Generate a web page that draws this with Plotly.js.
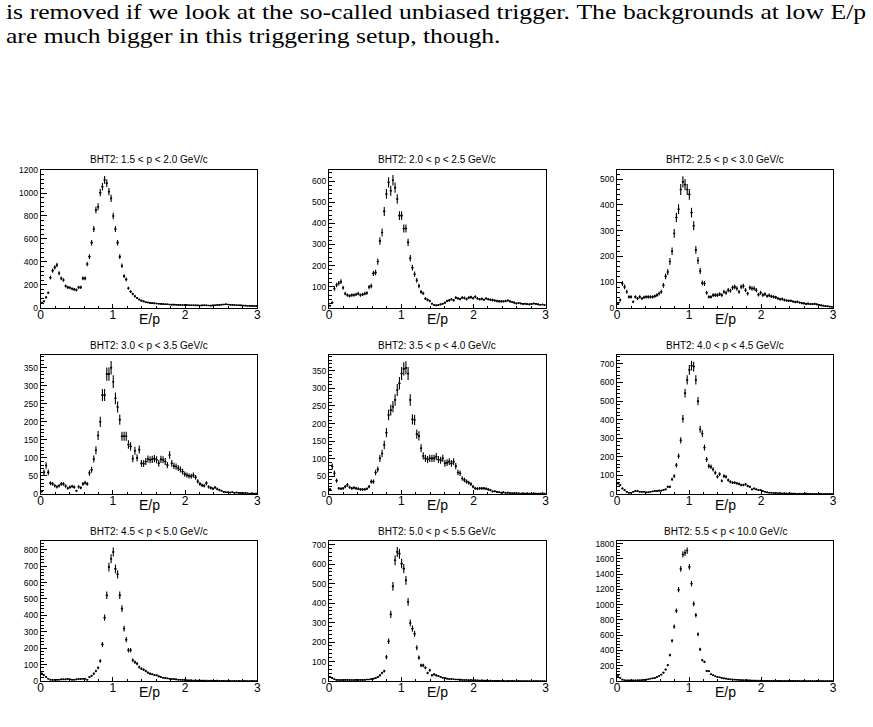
<!DOCTYPE html>
<html>
<head>
<meta charset="utf-8">
<script src="https://cdn.plot.ly/plotly-3.0.1.min.js"></script>
<style>
  html, body { margin: 0; padding: 0; background: #fff; }
  #page { position: relative; width: 873px; height: 727px; overflow: hidden; background: #fff; }
  #chart { position: absolute; left: 0; top: 0; width: 873px; height: 727px; }
  .para { position: absolute; left: 6px; font-family: "Liberation Serif", "DejaVu Serif", serif;
          font-size: 21px; line-height: 19px; color: #000; white-space: nowrap;
          transform: scaleX(1.22); transform-origin: 0 0; }
  .just { display: flex; justify-content: space-between; width: 705px; }
</style>
</head>
<body>
<div id="page">
  <div id="chart"></div>
  <div class="para just" id="line1" style="top:3px;"></div>
  <div class="para" style="top:27px;">are much bigger in this triggering setup, though.</div>
</div>
<script>
// First paragraph line is set word by word so that it spans the full text width.
const firstLine = "is removed if we look at the so-called unbiased trigger. The backgrounds at low E/p";
const line1 = document.getElementById("line1");
firstLine.split(" ").forEach(w => {
  const s = document.createElement("span");
  s.textContent = w;
  line1.appendChild(s);
});

// E/p spectra for BHT2-triggered tracks, 100 bins over 0 < E/p < 3, one array per momentum slice.
const panelTitles = [
  "BHT2: 1.5 &lt; p &lt; 2.0 GeV/c", "BHT2: 2.0 &lt; p &lt; 2.5 GeV/c", "BHT2: 2.5 &lt; p &lt; 3.0 GeV/c",
  "BHT2: 3.0 &lt; p &lt; 3.5 GeV/c", "BHT2: 3.5 &lt; p &lt; 4.0 GeV/c", "BHT2: 4.0 &lt; p &lt; 4.5 GeV/c",
  "BHT2: 4.5 &lt; p &lt; 5.0 GeV/c", "BHT2: 5.0 &lt; p &lt; 5.5 GeV/c", "BHT2: 5.5 &lt; p &lt; 10.0 GeV/c"
];
const xAxisLabel = "E/p";
const xTickValues = [0, 1, 2, 3];

const counts_p15_20 = [
  44,55,90,130,262,323,352,372,300,256,
  241,189,177,174,165,160,154,177,177,256,
  256,380,445,567,686,852,880,1003,1055,1115,
  1085,1012,953,800,686,567,445,366,275,247,
  170,140,120,100,85,72,62,55,48,45,
  42,40,38,36,35,33,32,30,30,28,
  27,27,26,25,25,24,24,23,22,22,
  21,20,20,19,20,21,20,19,18,20,
  22,24,25,27,28,30,28,26,25,24,
  22,21,20,19,18,17,16,16,15,14
];
const counts_p20_25 = [
  10,24,90,108,116,124,95,67,60,56,
  60,60,63,67,60,63,67,70,98,103,
  163,167,219,317,357,457,540,595,555,605,
  570,516,437,437,376,376,310,235,190,159,
  130,103,75,68,43,37,32,19,13,11,
  13,16,19,24,32,35,40,35,48,44,
  41,48,46,41,48,50,45,52,44,40,
  42,38,44,40,38,36,34,32,30,30,
  30,32,34,30,27,24,20,22,20,18,
  19,17,16,18,20,18,16,14,15,12
];
const counts_p25_30 = [
  14,30,94,81,62,42,42,23,42,36,
  42,36,40,42,42,42,42,45,49,55,
  62,87,122,139,180,220,289,351,383,460,
  490,479,460,441,370,319,225,184,143,96,
  94,58,42,42,49,49,49,53,49,62,
  58,68,66,78,81,75,62,81,84,68,
  55,78,75,75,68,51,58,49,53,45,
  48,44,42,40,36,33,34,30,28,27,
  27,24,22,23,20,18,17,15,16,14,
  14,15,13,11,9,8,6,5,4,3
];
const counts_p30_35 = [
  7,60,79,60,30,28,23,20,23,28,
  28,22,16,19,21,19,9,20,17,28,
  31,28,58,67,97,121,162,200,274,274,
  332,332,350,311,265,241,206,160,160,160,
  137,132,98,120,100,123,85,84,90,97,
  95,96,98,95,85,96,95,90,80,108,
  85,78,76,72,68,62,55,52,50,49,
  52,46,35,28,24,23,30,20,17,15,
  18,14,11,9,6,5,5,4,5,3,
  4,3,3,2,3,2,1,2,1,1
];
const counts_p35_40 = [
  13,78,59,38,16,15,16,21,26,19,
  16,18,16,15,13,13,13,15,21,35,
  35,61,70,101,115,139,174,224,238,248,
  267,295,314,342,355,358,342,267,212,210,
  170,165,130,108,101,98,101,101,101,106,
  98,96,101,87,89,92,87,92,79,61,
  59,44,40,35,32,28,21,16,15,16,
  16,16,15,13,11,7,8,6,5,4,
  5,3,4,3,2,3,2,2,1,2,
  1,2,1,1,2,1,1,1,2,1
];
const counts_p40_45 = [
  57,48,30,21,12,7,7,12,16,16,
  12,12,12,9,9,12,14,16,16,18,
  18,21,25,39,39,79,96,155,204,289,
  405,543,614,668,691,686,614,500,348,325,
  250,186,150,146,132,114,93,107,71,96,
  93,75,66,61,61,57,54,48,48,52,
  43,39,25,30,25,21,21,16,12,9,
  7,7,5,6,4,5,3,4,3,2,
  3,2,2,1,2,1,1,2,1,1,
  1,1,0,1,1,0,1,0,1,0
];
const counts_p45_50 = [
  45,35,24,14,8,6,8,8,8,10,
  10,10,12,10,8,8,10,12,12,14,
  14,8,24,32,45,61,81,122,223,386,
  522,694,745,786,683,650,522,441,319,252,
  187,187,126,114,106,85,75,69,61,51,
  45,41,37,35,28,24,20,18,16,14,
  12,12,10,8,8,7,6,5,4,5,
  3,4,3,2,3,2,2,1,2,1,
  1,2,1,1,1,0,1,1,0,1,
  0,1,0,0,1,0,0,1,0,0
];
const counts_p50_55 = [
  20,15,9,6,5,5,5,6,6,5,
  5,5,6,6,6,6,6,8,8,10,
  12,15,20,29,41,51,123,204,342,486,
  620,663,654,603,577,517,406,298,269,243,
  171,120,80,80,68,41,55,29,34,29,
  26,21,17,15,12,10,10,9,8,8,
  7,6,5,5,4,5,3,4,3,2,
  3,2,2,1,2,1,1,1,1,0,
  1,0,1,0,1,0,0,1,0,0,
  0,0,0,0,0,0,0,0,0,0
];
const counts_p55_100 = [
  66,40,18,10,8,8,8,8,8,10,
  10,12,15,18,22,31,35,40,53,66,
  84,110,150,207,339,528,713,920,1197,1470,
  1659,1681,1710,1496,1276,1012,863,612,414,273,
  251,132,128,88,75,62,53,48,40,35,
  31,26,22,20,18,16,14,12,11,10,
  9,8,7,6,6,5,5,4,4,3,
  3,3,2,2,2,2,1,2,1,1,
  1,1,1,3,1,0,1,0,0,1,
  0,0,1,0,0,0,0,0,0,0
];

const panelCounts = [counts_p15_20, counts_p20_25, counts_p25_30,
                     counts_p30_35, counts_p35_40, counts_p40_45,
                     counts_p45_50, counts_p50_55, counts_p55_100];

// histogram binning
const epMin = 0, epMax = 3, nBins = 100;
const binW = (epMax - epMin) / nBins;
const binCenters = Array.from({length: nBins}, (_, i) => epMin + (i + 0.5) * binW);

// frame geometry (pixels) and y-axis settings per pad
const W = 873, H = 727;
const colPx = [[40.7, 257.3], [329, 545.7], [617, 833]];
const rowPx = [[169.5, 307.7], [355, 494], [541, 681]];
const yTop = [1205, 656, 538, 385, 394.5, 748, 853, 719, 1835];
const yStep = [200, 100, 100, 50, 50, 100, 100, 100, 200];

const px2x = p => p / W;
const px2y = p => 1 - p / H;

const sans = "Liberation Sans, Arial, Helvetica, sans-serif";
const traces = [];
const layout = {
  width: W, height: H,
  margin: {l: 0, r: 0, t: 0, b: 0, pad: 0},
  paper_bgcolor: "rgba(0,0,0,0)", plot_bgcolor: "#fff",
  showlegend: false,
  annotations: []
};

panelCounts.forEach((counts, k) => {
  const r = Math.floor(k / 3), c = k % 3;
  const sfx = k === 0 ? "" : String(k + 1);
  traces.push({
    type: "scatter", mode: "markers",
    x: binCenters, y: counts,
    xaxis: "x" + sfx, yaxis: "y" + sfx,
    marker: {symbol: "square", size: 1.6, color: "#000"},
    error_y: {type: "data", array: counts.map(v => Math.sqrt(v)), visible: true,
              thickness: 1.1, width: 0, color: "#000"},
    error_x: {type: "constant", value: binW / 2, visible: true,
              thickness: 1.1, width: 0, color: "#000"},
    cliponaxis: true, hoverinfo: "skip"
  });

  const xd = [px2x(colPx[c][0]), px2x(colPx[c][1])];
  const yd = [px2y(rowPx[r][1]), px2y(rowPx[r][0])];
  layout["xaxis" + sfx] = {
    domain: xd, anchor: "y" + sfx, range: [epMin, epMax],
    showline: true, mirror: true, linecolor: "#000", linewidth: 1,
    ticks: "inside", ticklen: 4, tickwidth: 1, tickcolor: "#000",
    tickmode: "array", tickvals: xTickValues, ticktext: xTickValues.map(String),
    minor: {dtick: 0.2, tick0: 0, ticks: "inside", ticklen: 2, tickcolor: "#000", showgrid: false},
    showgrid: false, zeroline: false,
    tickfont: {family: sans, size: 12, color: "#000"},
    ticklabelstandoff: -4, fixedrange: true
  };
  layout["yaxis" + sfx] = {
    domain: yd, anchor: "x" + sfx, range: [0, yTop[k]],
    showline: true, mirror: true, linecolor: "#000", linewidth: 1,
    ticks: "inside", ticklen: 6, tickwidth: 1, tickcolor: "#000",
    tick0: 0, dtick: yStep[k],
    minor: {dtick: yStep[k] / 5, ticks: "inside", ticklen: 3, tickcolor: "#000", showgrid: false},
    showgrid: false, zeroline: false,
    tickfont: {family: sans, size: 8.5, color: "#000"},
    ticklabelstandoff: 0, fixedrange: true
  };

  const cx = px2x((colPx[c][0] + colPx[c][1]) / 2);
  layout.annotations.push({
    xref: "paper", yref: "paper", x: cx, y: px2y(rowPx[r][0] - 10),
    text: panelTitles[k], showarrow: false, xanchor: "center", yanchor: "middle",
    font: {family: sans, size: 10, color: "#000"}
  });
  layout.annotations.push({
    xref: "paper", yref: "paper", x: cx, y: px2y(rowPx[r][1] + 11),
    text: xAxisLabel, showarrow: false, xanchor: "center", yanchor: "middle",
    font: {family: sans, size: 14, color: "#000"}
  });
});

Plotly.newPlot("chart", traces, layout, {displayModeBar: false, staticPlot: true});
</script>
</body>
</html>
